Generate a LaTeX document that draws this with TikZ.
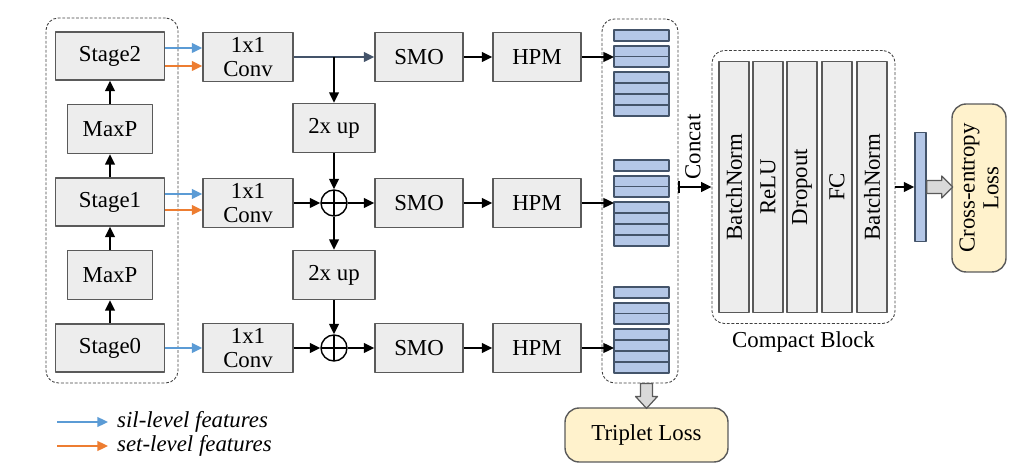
\documentclass[tikz,border=0pt]{standalone}
\usepackage{fontspec}
\setmainfont{Liberation Serif}
\usepackage{xcolor}
\usetikzlibrary{positioning,calc,arrows.meta}

\definecolor{boxGray}{HTML}{EDEDED}
\definecolor{lineGray}{HTML}{5A5A5A}
\definecolor{stripBlue}{HTML}{B4C7E7}
\definecolor{slate}{HTML}{44546A}
\definecolor{silBlue}{HTML}{5B9BD5}
\definecolor{setOrange}{HTML}{ED7D31}
\definecolor{lossYellow}{HTML}{FFF2CC}
\definecolor{fatGray}{HTML}{D9D9D9}

\begin{document}
\begin{tikzpicture}[
					x=0.02cm,y=-0.02cm,
					>={Stealth[length=6pt,width=5.5pt,inset=0pt]},
					line join=round,
					font=\fontsize{13}{13.5}\selectfont,
					blk/.style={draw=lineGray, fill=boxGray, line width=0.8pt, inner sep=1pt, align=center},
					dashbox/.style={draw=black!75, line width=0.5pt, dash pattern=on 1.6pt off 1pt, rounded corners=7pt},
					lossbox/.style={draw=lineGray, fill=lossYellow, line width=0.8pt, rounded corners=8pt, align=center, inner sep=1pt},
					arr/.style={->, black, line width=1.1pt},
					silarr/.style={->, silBlue, line width=1.1pt},
					setarr/.style={->, setOrange, line width=1.1pt},
					strip/.style={draw=slate, fill=stripBlue, line width=0.8pt},
					fatarr/.style={draw=lineGray, fill=fatGray, line width=0.7pt}
					]
					\useasboundingbox (0,0) rectangle (1026,475);
					
					%----- dashed groups
					\node[dashbox, minimum width=2.64cm, minimum height=7.30cm] (backbone) at (112,200.5) {};
					\node[dashbox, minimum width=1.52cm, minimum height=7.28cm] (featbox) at (640,201) {};
					\node[dashbox, minimum width=3.66cm, minimum height=5.46cm] (compact) at (803.5,187) {};
					
					%----- backbone
					\node[blk, minimum width=2.18cm, minimum height=0.96cm] (stage2) at (110,56) {Stage2};
					\node[blk, minimum width=2.18cm, minimum height=0.96cm] (stage1) at (110,202) {Stage1};
					\node[blk, minimum width=2.18cm, minimum height=0.96cm] (stage0) at (110,348) {Stage0};
					\node[blk, minimum width=1.70cm, minimum height=0.98cm] (maxp1) at (110,129) {MaxP};
					\node[blk, minimum width=1.70cm, minimum height=0.98cm] (maxp0) at (110,275) {MaxP};
					
					\draw[arr] (stage0.north) -- (maxp0.south);
					\draw[arr] (maxp0.north) -- (stage1.south);
					\draw[arr] (stage1.north) -- (maxp1.south);
					\draw[arr] (maxp1.north) -- (stage2.south);
					
					%----- 1x1 conv, 2x up
					\node[blk, minimum width=1.80cm, minimum height=0.98cm] (conv2) at (248,57) {1x1\\Conv};
					\node[blk, minimum width=1.80cm, minimum height=0.98cm] (conv1) at (248,203) {1x1\\Conv};
					\node[blk, minimum width=1.80cm, minimum height=0.98cm] (conv0) at (248,348) {1x1\\Conv};
					\node[blk, minimum width=1.64cm, minimum height=0.98cm] (up2) at (334,128) {2x up};
					\node[blk, minimum width=1.64cm, minimum height=0.98cm] (up1) at (334,275) {2x up};
					
					\foreach \r in {1,0}{
						\node[circle, draw=black, line width=0.8pt, minimum size=0.52cm, inner sep=0pt,
						path picture={\draw[line width=0.8pt] (path picture bounding box.north) -- (path picture bounding box.south)
							(path picture bounding box.west) -- (path picture bounding box.east);}]
						(oplus\r) at (conv\r.east -| up2) {};
					}
					
					%----- SMO, HPM
					\foreach \r in {2,1,0}{
						\node[blk, minimum width=1.76cm, minimum height=0.98cm] (smo\r) at (419,0 |- conv\r) {SMO};
						\node[blk, minimum width=1.76cm, minimum height=0.98cm] (hpm\r) at (537,0 |- conv\r) {HPM};
						\draw[arr] (smo\r.east) -- (hpm\r.west);
					}
					
					% sil / set arrows
					\draw[silarr] ($(stage2.east)+(0,-8)$) -- ($(conv2.west |- stage2.east)+(0,-8)$);
					\draw[setarr] ($(stage2.east)+(0,10)$) -- ($(conv2.west |- stage2.east)+(0,10)$);
					\draw[silarr] ($(stage1.east)+(0,-8)$) -- ($(conv1.west |- stage1.east)+(0,-8)$);
					\draw[setarr] ($(stage1.east)+(0,8)$) -- ($(conv1.west |- stage1.east)+(0,8)$);
					\draw[silarr] (stage0.east) -- (conv0.west |- stage0.east);
					
					% top-down path
					\draw[->, slate, line width=1.1pt] (conv2.east) -- (smo2.west);
					\coordinate (brTop) at (up2.north |- conv2.east);
					\draw[arr] (brTop) -- (up2.north);
					\draw[arr] (up2.south) -- (oplus1.north);
					\draw[arr] (conv1.east) -- (oplus1.west);
					\draw[arr] (oplus1.east) -- (smo1.west);
					\draw[arr] (oplus1.south) -- (up1.north);
					\draw[arr] (up1.south) -- (oplus0.north);
					\draw[arr] (conv0.east) -- (oplus0.west);
					\draw[arr] (oplus0.east) -- (smo0.west);
					
					%----- feature strips
					\foreach \g/\s in {2/30,1/160,0/287}{
						\draw[strip] (614,\s) rectangle (669,\s+11);
						\foreach \k in {0,1}
						\draw[strip] (614,\s+16+\k*10.5) rectangle (669,\s+26.5+\k*10.5);
						\foreach \k in {0,...,3}
						\draw[strip] (614,\s+42+\k*11) rectangle (669,\s+53+\k*11);
						\coordinate (feat\g) at (614,\s);
					}
					\foreach \g in {2,1,0}
					\draw[arr] (hpm\g.east) -- (hpm\g.east -| feat\g);
					
					%----- concat + compact block
					\draw[arr, {Bar[width=7pt]}->] (featbox.east |- compact.west) -- (compact.west);
					\node[rotate=90] (concatLbl) at (693,147) {Concat};
					
					\foreach \i/\cx/\txt in {1/734/BatchNorm,2/768/ReLU,3/802/Dropout,4/837/FC,5/872/BatchNorm}
					\node[blk, rotate=90, minimum width=5.02cm, minimum height=0.60cm] (layer\i) at (\cx,187) {\txt};
					\node[below=1pt of compact] (compactLbl) {Compact Block};
					
					\node[draw=slate, fill=stripBlue, line width=0.8pt, minimum width=0.22cm, minimum height=2.18cm, inner sep=0pt] (embBar) at (920.5,187) {};
					\draw[arr] (compact.east) -- (embBar.west);
					
					%----- losses
					\node[lossbox, rotate=90, minimum width=3.36cm, minimum height=1.08cm] (ceLoss) at (979,188) {Cross-entropy\\Loss};
					\node[lossbox, minimum width=3.26cm, minimum height=1.08cm] (tripLoss) at (646.5,435) {Triplet Loss};
					
					\draw[fatarr] (embBar.east) ++(0,-6.5) -- ++(15,0) -- ++(0,-4.5) -- ++(11,11) -- ++(-11,11) -- ++(0,-4.5) -- ++(-15,0) -- cycle;
					\draw[fatarr] (tripLoss.north |- featbox.south) ++(-6,0) -- ++(0,13) -- ++(-5,0) -- ++(11,12) -- ++(11,-12) -- ++(-5,0) -- ++(0,-13) -- cycle;
					
					%----- legend
					\coordinate (silA) at (57,422);
					\coordinate (silB) at (108,422);
					\coordinate (setA) at (57,446);
					\coordinate (setB) at (108,446);
					\draw[silarr] (silA) -- (silB);
					\draw[setarr] (setA) -- (setB);
					\node[anchor=west, font=\fontsize{13}{13.5}\selectfont\itshape] (silTxt) at (111,422) {sil-level features};
					\node[anchor=west, font=\fontsize{13}{13.5}\selectfont\itshape] (setTxt) at (111,446) {set-level features};
					
				\end{tikzpicture}
\end{document}
